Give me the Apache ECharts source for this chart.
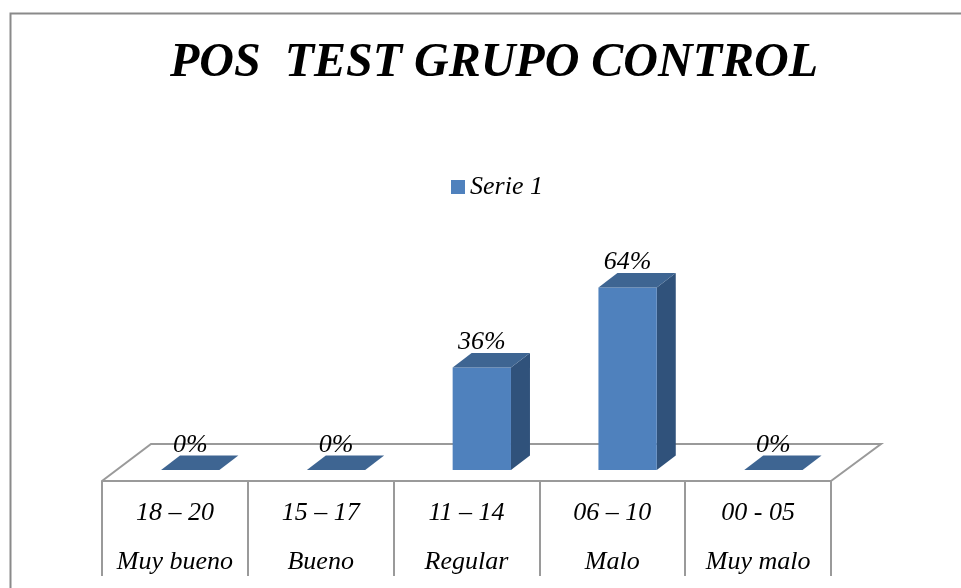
<!DOCTYPE html>
<html>
<head>
<meta charset="utf-8">
<style>html,body{margin:0;padding:0;background:#fff}#c{width:961px;height:588px}</style>
<script src="https://cdn.jsdelivr.net/npm/echarts@6/dist/echarts.min.js"></script>
</head>
<body>
<div id="c"></div>
<script>
var ranges = ['18 – 20', '15 – 17', '11 – 14', '06 – 10', '00 - 05'];
var grades = ['Muy bueno', 'Bueno', 'Regular', 'Malo', 'Muy malo'];
var values = [0, 0, 36, 64, 0];
var seriesName = 'Serie 1';
var titleText = 'POS  TEST GRUPO CONTROL';

var serif = '"Liberation Serif", "Times New Roman", serif';
var categories = ranges.map(function (r, i) { return r + '\n' + grades[i]; });
var gridColor = '#9a9a9a';
var FRONT = '#4f81bd', TOP = '#3e6592', SIDE = '#30527b';

function renderBar(params, api) {
  var i = api.value(0), v = api.value(1);
  var base = api.coord([i, 0]);
  var tip = api.coord([i, v]);
  var band = api.size([1, 0])[0];
  var w = band * 0.4;
  var dx = 19, dy = -14.5;
  var off = band * 0.105;
  var x0 = base[0] + off - w / 2, x1 = x0 + w;
  var yb = base[1], yt = tip[1];
  var children = [];
  if (v > 0) {
    children.push({ type: 'polygon', shape: { points: [[x1, yb], [x1 + dx, yb + dy], [x1 + dx, yt + dy], [x1, yt]] }, style: { fill: SIDE } });
    children.push({ type: 'rect', shape: { x: x0, y: yt, width: w, height: yb - yt }, style: { fill: FRONT } });
  }
  children.push({ type: 'polygon', shape: { points: [[x0, yt], [x1, yt], [x1 + dx, yt + dy], [x0 + dx, yt + dy]] }, style: { fill: TOP } });
  children.push({
    type: 'text', z2: 10,
    style: {
      x: (x0 + x1) / 2, y: yt - 25, text: v + '%', align: 'center', verticalAlign: 'middle',
      font: 'italic 26px ' + serif, fill: '#000'
    }
  });
  return { type: 'group', children: children };
}

var chart = echarts.init(document.getElementById('c'), null, { renderer: 'canvas' });
chart.setOption({
  animation: false,
  backgroundColor: '#fff',
  title: {
    text: titleText, left: 489, top: 35, textAlign: 'center',
    textStyle: { fontFamily: serif, fontStyle: 'italic', fontWeight: 'bold', fontSize: 48, color: '#000' }
  },
  legend: {
    data: [seriesName], left: 446, top: 169, itemWidth: 14, itemHeight: 14, itemGap: 5,
    icon: 'rect', textStyle: { fontFamily: serif, fontStyle: 'italic', fontSize: 26, color: '#000' }
  },
  grid: { left: 102, width: 729, top: 185, height: 296, outerBoundsMode: 'none' },
  xAxis: {
    type: 'category', data: categories, position: 'bottom',
    axisLine: { onZero: false, lineStyle: { color: gridColor, width: 2 } },
    axisTick: { show: true, length: 95, lineStyle: { color: gridColor, width: 2 } },
    axisLabel: {
      margin: 8, fontFamily: serif, fontStyle: 'italic', fontSize: 26, color: '#000',
      lineHeight: 49, interval: 0
    }
  },
  yAxis: { type: 'value', min: -3.85, max: 100, show: false },
  graphic: [
    { type: 'polyline', z: 0, silent: true, shape: { points: [[10.5, 588], [10.5, 13.5], [961, 13.5]] }, style: { fill: null, stroke: '#8a8a8a', lineWidth: 2 } },
    { type: 'polyline', z: 0, silent: true, shape: { points: [[102, 481], [151, 444], [881, 444], [831, 481]] }, style: { fill: null, stroke: gridColor, lineWidth: 2 } }
  ],
  series: [{
    name: seriesName, type: 'custom', coordinateSystem: 'cartesian2d',
    itemStyle: { color: FRONT }, encode: { x: 0, y: 1 }, clip: false,
    data: values.map(function (v, i) { return [i, v]; }),
    renderItem: renderBar
  }]
});
</script>
</body>
</html>
